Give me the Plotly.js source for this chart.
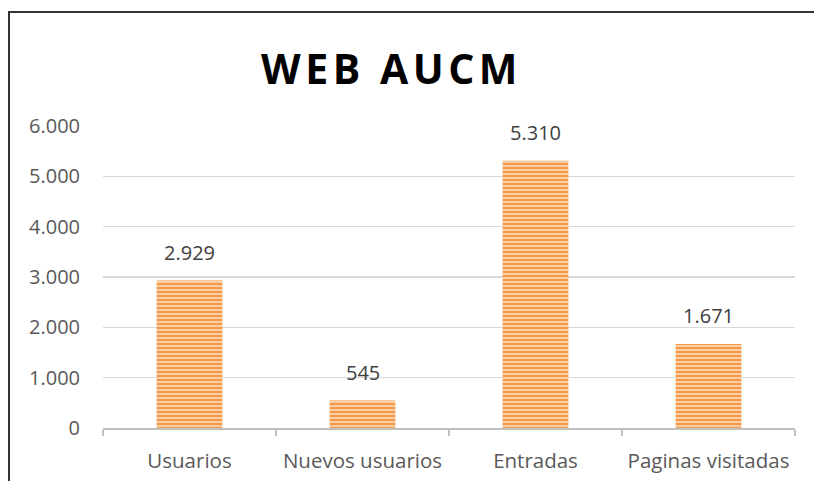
<!DOCTYPE html>
<html>
<head>
<meta charset="utf-8">
<script src="https://cdn.plot.ly/plotly-3.0.1.min.js"></script>
<style>html,body{margin:0;padding:0;background:#fff;}#chart{width:814px;height:481px;}
.gtitle{letter-spacing:4.5px;}</style>
</head>
<body>
<div id="chart"></div>
<script>
const categories = ["Usuarios", "Nuevos usuarios", "Entradas", "Paginas visitadas"];
const values = [2929, 545, 5310, 1671];
const yTicks = [0, 1000, 2000, 3000, 4000, 5000, 6000];
const chartTitle = "WEB AUCM";

function fmt(v) {
  return String(v).replace(/\B(?=(\d{3})+(?!\d))/g, ".");
}

const trace = {
  type: "bar",
  x: categories,
  y: values,
  marker: {
    color: "#FBD3AE",
    line: {width: 0},
    pattern: {shape: "-", fgcolor: "#F4994A", bgcolor: "#FBD3AE", size: 4, solidity: 0.55}
  },
  hoverinfo: "none"
};

const labelAnnotations = categories.map((c, i) => ({
  x: c, y: values[i], xref: "x", yref: "y",
  text: fmt(values[i]),
  showarrow: false,
  yanchor: "bottom",
  yshift: 13,
  font: {family: "Open Sans, sans-serif", size: 20, color: "#404040"}
}));

const layout = {
  width: 814, height: 481,
  margin: {l: 103, r: 19, t: 126, b: 53},
  paper_bgcolor: "#ffffff",
  plot_bgcolor: "#ffffff",
  separators: ",.",
  showlegend: false,
  bargap: 0.62,
  title: {
    text: chartTitle,
    x: 0.481, xanchor: "center",
    y: 0.855, yanchor: "middle",
    font: {family: "Open Sans, sans-serif", size: 41, color: "#000000", weight: "bold"}
  },
  xaxis: {
    type: "category",
    showgrid: false,
    showline: true, linecolor: "#BFBFBF", linewidth: 2,
    ticks: "outside", tickson: "boundaries", ticklen: 6, tickcolor: "#BFBFBF", tickwidth: 2,
    ticklabelstandoff: 13,
    tickfont: {family: "Open Sans, sans-serif", size: 20.5, color: "#595959"},
    fixedrange: true
  },
  yaxis: {
    range: [0, 6000],
    tickvals: yTicks,
    tickformat: ",d",
    showgrid: true, gridcolor: "#D9D9D9", gridwidth: 1.3,
    zeroline: false, showline: false,
    ticks: "", ticklabelstandoff: 22,
    tickfont: {family: "Open Sans, sans-serif", size: 20, color: "#595959"},
    fixedrange: true
  },
  annotations: labelAnnotations,
  shapes: [{
    type: "rect", xref: "paper", yref: "paper",
    x0: -94/692, x1: 720/692, y0: -80/302, y1: (428-12)/302,
    line: {color: "#333333", width: 2}, fillcolor: "rgba(0,0,0,0)", layer: "above"
  }]
};

Plotly.newPlot("chart", [trace], layout, {displayModeBar: false, staticPlot: true});
</script>
</body>
</html>
